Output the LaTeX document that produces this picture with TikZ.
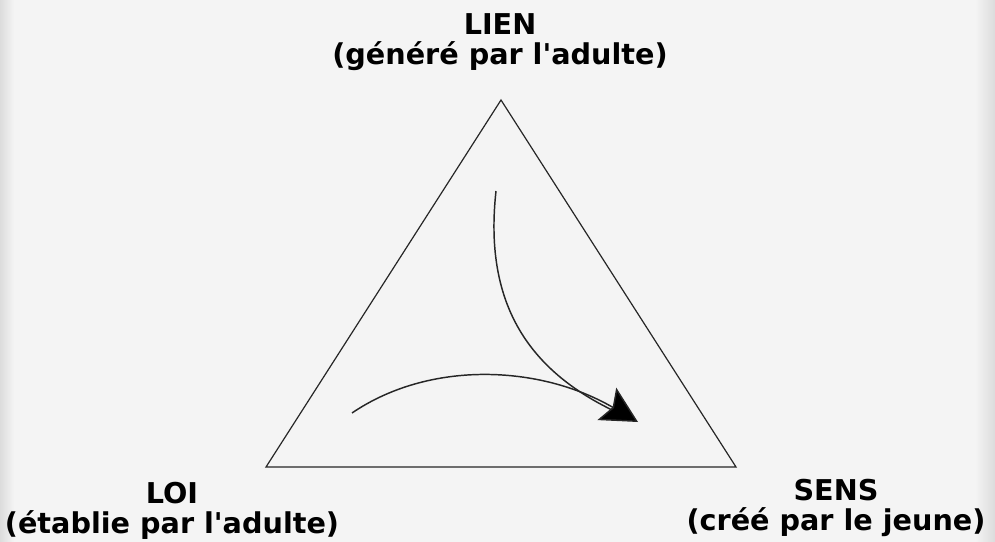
\documentclass[tikz,border=0pt]{standalone}
\usepackage{fontspec}
\setmainfont{DejaVu Sans}
\usepackage{tikz}
\usetikzlibrary{arrows.meta, positioning}
\definecolor{fondo}{HTML}{F4F4F4}
\definecolor{borde}{HTML}{DCDCDC}
\newcommand{\apos}{\textquotesingle}
\tikzset{
  every picture/.style={font=\bfseries},
  polo/.style={align=center, font=\fontsize{21.5}{23}\selectfont\bfseries, inner sep=0pt},
  lado/.style={draw=black!85, line width=0.9pt, line join=miter},
  flecha/.style={draw=black!85, line width=1.1pt},
}

\begin{document}
\begin{tikzpicture}[x=0.75pt, y=-0.75pt]
  \fill[fondo] (0,0) rectangle (995,542);
  \shade[left color=borde, right color=fondo] (0,0) rectangle (14,542);
  \shade[left color=fondo, right color=borde] (975,0) rectangle (995,542);
  \useasboundingbox (0,0) rectangle (995,542);

  % sommets du triangle
  \coordinate (a) at (501,100);
  \coordinate (b) at (266,467);
  \coordinate (c) at (736,467);
  \draw[lado] (a) -- (b) -- (c) -- cycle;

  \node[polo] (lien) at (500,42) {LIEN\\(généré par l\apos adulte)};
  \node[polo] (loi) at (172,511) {LOI\\(établie par l\apos adulte)};
  \node[polo] (sens) at (836,508) {SENS\\(créé par le jeune)};

  % flèches
  \coordinate (d1) at (496,191);
  \coordinate (d2) at (352,413);
  \coordinate (pointe) at (638,422);
  \draw[flecha, shorten >=16pt] (d1) .. controls (484,300) and (525,370) .. (pointe);
  \draw[flecha, -{Stealth[length=27pt, width=28pt, inset=5pt, fill=black]}] (d2) .. controls (430,360) and (540,365) .. (pointe);
\end{tikzpicture}
\end{document}
